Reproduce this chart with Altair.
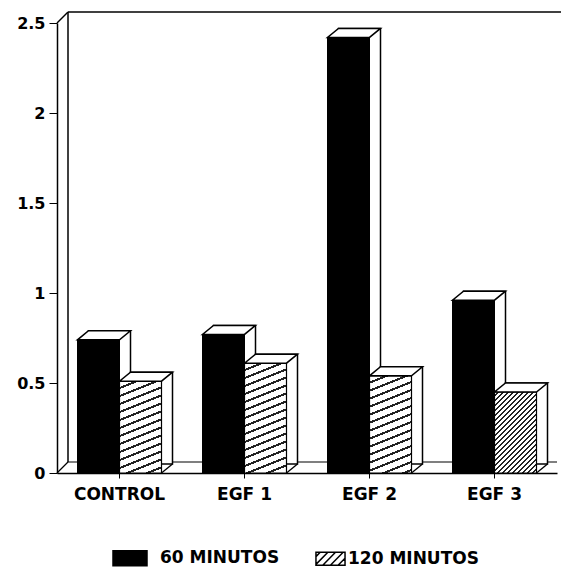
import math
import altair as alt
import pandas as pd

# ---------------- data ----------------
categories = ["CONTROL", "EGF 1", "EGF 2", "EGF 3"]
series = ["60 MINUTOS", "120 MINUTOS"]
values_60 = [0.74, 0.77, 2.42, 0.96]
values_120 = [0.51, 0.61, 0.54, 0.45]
y_ticks = [0, 0.5, 1, 1.5, 2, 2.5]

# ---------------- styling ----------------
W, H = 500, 450
Y_MAX = 2.5
BAR = 42            # width of one bar (px)
HALF = BAR / 2
DX, DY = 11, 9      # 3D depth of bars
WDX, WDY = 11, 11   # 3D depth of walls
FONT = "DejaVu Sans"
hatch_slope = [0.4, 0.4, 0.4, 1.0]
hatch_period = [8, 8, 8, 5]
hatch_dark = [0.28, 0.28, 0.28, 0.4]

rows = []
for c, a, b in zip(categories, values_60, values_120):
    rows.append({"cat": c, "series": series[0], "value": a})
    rows.append({"cat": c, "series": series[1], "value": b})
df = pd.DataFrame(rows)

x_enc = alt.X(
    "cat:N",
    sort=categories,
    scale=alt.Scale(domain=categories, paddingInner=0.328, paddingOuter=0.164),
    axis=alt.Axis(
        title=None, labelAngle=0, labelFont=FONT, labelFontWeight="bold",
        labelFontSize=17, labelColor="black", domainColor="black",
        domainWidth=1.5, tickColor="black", tickSize=5, labelPadding=8,
        grid=False,
    ),
)
y_enc = alt.Y(
    "value:Q",
    scale=alt.Scale(domain=[0, Y_MAX], nice=False, zero=True),
    axis=alt.Axis(
        title=None, values=y_ticks, format="~g", labelFont=FONT,
        labelFontWeight="bold", labelFontSize=16, labelColor="black",
        domainColor="black", domainWidth=1.5, tickColor="black", tickSize=8,
        labelPadding=4, grid=False,
    ),
)
y0 = alt.Y2(datum=0)

base = alt.Chart(df)
s60 = base.transform_filter(alt.datum.series == series[0])
s120 = base.transform_filter(alt.datum.series == series[1])

# ---------- walls / floor (frame decoration) ----------
frame = alt.Chart(pd.DataFrame({"v": [0]}))
wall_top = frame.mark_rule(color="black", strokeWidth=1.5, yOffset=-WDY).encode(
    x=alt.value(WDX), x2=alt.value(W + 4), y=alt.Y(datum=Y_MAX)
)
wall_left = frame.mark_rule(color="black", strokeWidth=1.5, yOffset=-WDY, y2Offset=-WDY).encode(
    x=alt.value(WDX), y=alt.Y(datum=Y_MAX), y2=alt.Y2(datum=0)
)
wall_diag = frame.mark_rule(color="black", strokeWidth=1.5, y2Offset=-WDY).encode(
    x=alt.value(0), x2=alt.value(WDX), y=alt.Y(datum=Y_MAX), y2=alt.Y2(datum=Y_MAX)
)
floor_back = frame.mark_rule(color="black", strokeWidth=1.2, yOffset=-WDY).encode(
    x=alt.value(WDX), x2=alt.value(W), y=alt.Y(datum=0)
)
floor_diag = frame.mark_rule(color="black", strokeWidth=1.2, y2Offset=-WDY).encode(
    x=alt.value(0), x2=alt.value(WDX), y=alt.Y(datum=0), y2=alt.Y2(datum=0)
)

# ---------- back boxes (side faces) ----------
back_kw = dict(fill="white", stroke="black", strokeWidth=1.5, width=BAR,
               yOffset=-DY, y2Offset=-DY)
back60 = s60.mark_bar(xOffset=-HALF + DX, **back_kw).encode(x=x_enc, y=y_enc, y2=y0)
back120 = s120.mark_bar(xOffset=HALF + DX, **back_kw).encode(x=x_enc, y=y_enc, y2=y0)

# ---------- front faces ----------
front60 = s60.mark_bar(fill="black", stroke="black", strokeWidth=1, width=BAR,
                       xOffset=-HALF).encode(x=x_enc, y=y_enc, y2=y0)


def hatch_gradient(value, slope, period, dark):
    h = value * H / Y_MAX
    w = BAR
    d = slope * w / h
    ad = abs(d)
    k = (ad + 1) / (d * d + 1)
    n = (h + abs(slope) * w) / period
    stops = []
    i = 0
    while i / n < 1:
        a = i / n
        b = min((i + 1 - dark) / n, 1)
        c = min((i + 1) / n, 1)
        stops += [
            alt.GradientStop(color="white", offset=a),
            alt.GradientStop(color="white", offset=b),
            alt.GradientStop(color="#222222", offset=b),
            alt.GradientStop(color="#222222", offset=c),
        ]
        i += 1
    x1 = 0 if d >= 0 else 1
    return alt.LinearGradient(gradient="linear", stops=stops,
                              x1=x1, y1=0, x2=x1 + k * d, y2=k)


front120 = []
for i, c in enumerate(categories):
    g = hatch_gradient(values_120[i], hatch_slope[i], hatch_period[i], hatch_dark[i])
    front120.append(
        s120.transform_filter(alt.datum.cat == c)
        .mark_bar(fill=g, stroke="black", strokeWidth=1.2, width=BAR, xOffset=HALF)
        .encode(x=x_enc, y=y_enc, y2=y0)
    )

# ---------- top faces and bottom edge ----------
r = DX / HALF
q = DY / HALF
top_path = f"M-1,0L1,0L{1 + r:.3f},{-q:.3f}L{-1 + r:.3f},{-q:.3f}Z"
top_kw = dict(shape=top_path, size=BAR * BAR, filled=True, fill="white",
              stroke="black", strokeWidth=1.5, opacity=1)
top60 = s60.mark_point(xOffset=-HALF, **top_kw).encode(x=x_enc, y=y_enc)
top120 = s120.mark_point(xOffset=HALF, **top_kw).encode(x=x_enc, y=y_enc)

bottom_path = f"M1,0L{1 + r:.3f},{-q:.3f}"
bottom120 = s120.mark_point(shape=bottom_path, size=BAR * BAR, filled=False,
                            stroke="black", strokeWidth=1.3, opacity=1,
                            xOffset=HALF).encode(x=x_enc, y=alt.Y(datum=0))


# ---------- legend ----------
def legend_hatch_path():
    # swatch drawn right of the symbol centre so the label sits close to it
    xl, xr, hh = -0.12, 1.59, 0.38
    parts = [f"M{xl},{-hh}L{xr},{-hh}L{xr},{hh}L{xl},{hh}Z"]
    run = 0.75
    slope = (2 * hh) / run
    for xb in [xl - 0.5, xl - 0.05, xl + 0.4, xl + 0.85, xl + 1.3]:
        x1, y1 = xb, hh
        x2, y2 = xb + run, -hh
        if x1 < xl:
            y1 = hh - (xl - x1) * slope
            x1 = xl
        if x2 > xr:
            y2 = hh - (xr - xb) * slope
            x2 = xr
        if x1 < x2:
            parts.append(f"M{x1:.3f},{y1:.3f}L{x2:.3f},{y2:.3f}")
    return "".join(parts)


rect_path = "M-1,-0.44L1,-0.44L1,0.44L-1,0.44Z"
leg = alt.Legend(
    title=None, orient="none", direction="horizontal", legendX=55, legendY=517,
    symbolSize=1156, labelFont=FONT, labelFontWeight="bold", labelFontSize=17,
    labelColor="black", labelOffset=12, columnPadding=20, padding=0,
    symbolStrokeWidth=1.5,
)
legend_layer = alt.Chart(pd.DataFrame({"series": series})).mark_point(
    filled=True, stroke="black", strokeWidth=1.5, size=0, opacity=1
).encode(
    fill=alt.Fill("series:N", sort=series,
                  scale=alt.Scale(domain=series, range=["black", "white"]), legend=leg),
    shape=alt.Shape("series:N", sort=series,
                    scale=alt.Scale(domain=series, range=[rect_path, legend_hatch_path()]),
                    legend=leg),
)

chart = alt.layer(
    wall_top, wall_left, wall_diag, floor_back, floor_diag,
    back60, back120, front60, *front120, bottom120, top60, top120, legend_layer,
).properties(
    width=W, height=H,
    autosize=alt.AutoSizeParams(type="none"),
    padding={"left": 57, "top": 23, "right": 4, "bottom": 100},
).configure_view(stroke=None)

chart.save("out.html", embed_options={"renderer": "svg", "actions": False})
